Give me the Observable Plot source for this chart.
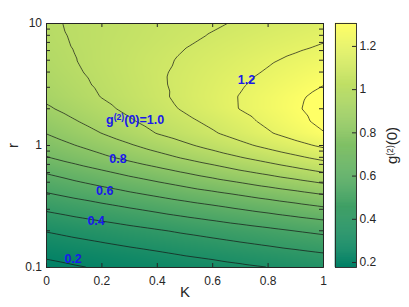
<!DOCTYPE html>
<html><head><meta charset="utf-8">
<script src="https://cdn.jsdelivr.net/npm/d3@7"></script>
<script src="https://cdn.jsdelivr.net/npm/@observablehq/plot@0.6"></script>
<style>
body{margin:0;background:#fff;}
#wrap{position:relative;width:409px;height:307px;font-family:"Liberation Sans",Arial,sans-serif;}
#wrap svg{position:absolute;left:0;top:0;}
</style></head><body><div id="wrap"></div>
<script>
// K columns of the sampled field
const kCols = [0, 0.1, 0.2, 0.3, 0.4, 0.5, 0.6, 0.7, 0.8, 0.9, 1];
// r rows (log-spaced, 0.1 decade)
const rRows = [0.1, 0.126, 0.158, 0.2, 0.251, 0.316, 0.398, 0.501, 0.631, 0.794, 1,
               1.26, 1.58, 2, 2.51, 3.16, 3.98, 5.01, 6.31, 7.94, 10];
// g2(0) values, one row per r, one column per K
const gRows = [
  [0.177,0.192,0.208,0.223,0.238,0.254,0.269,0.284,0.299,0.315,0.330],
  [0.211,0.229,0.246,0.264,0.282,0.302,0.317,0.335,0.353,0.370,0.388],
  [0.257,0.277,0.296,0.316,0.335,0.355,0.374,0.394,0.413,0.433,0.452],
  [0.305,0.327,0.348,0.370,0.392,0.414,0.435,0.457,0.479,0.502,0.522],
  [0.364,0.389,0.413,0.438,0.462,0.487,0.511,0.536,0.560,0.585,0.609],
  [0.425,0.453,0.480,0.508,0.535,0.563,0.590,0.618,0.645,0.673,0.702],
  [0.491,0.522,0.553,0.584,0.615,0.646,0.676,0.707,0.738,0.769,0.802],
  [0.555,0.591,0.626,0.662,0.697,0.733,0.769,0.804,0.840,0.875,0.911],
  [0.621,0.661,0.701,0.741,0.781,0.821,0.861,0.903,0.941,0.981,1.021],
  [0.694,0.737,0.780,0.823,0.866,0.909,0.952,0.995,1.038,1.081,1.124],
  [0.750,0.797,0.843,0.890,0.937,0.984,1.030,1.077,1.124,1.170,1.217],
  [0.803,0.852,0.901,0.951,1.003,1.046,1.090,1.138,1.190,1.243,1.295],
  [0.845,0.893,0.941,0.989,1.037,1.079,1.122,1.170,1.221,1.273,1.325],
  [0.887,0.932,0.977,1.021,1.066,1.111,1.156,1.203,1.245,1.290,1.335],
  [0.920,0.961,1.003,1.042,1.082,1.123,1.163,1.204,1.244,1.285,1.325],
  [0.940,0.977,1.014,1.050,1.087,1.122,1.157,1.192,1.227,1.262,1.298],
  [0.955,0.989,1.022,1.055,1.088,1.118,1.148,1.178,1.208,1.239,1.270],
  [0.967,0.997,1.027,1.056,1.084,1.110,1.136,1.163,1.190,1.216,1.240],
  [0.977,1.002,1.027,1.051,1.075,1.099,1.122,1.144,1.167,1.189,1.210],
  [0.985,1.005,1.025,1.045,1.065,1.085,1.105,1.125,1.145,1.165,1.185],
  [0.990,1.007,1.024,1.041,1.058,1.074,1.091,1.108,1.125,1.141,1.158]
];
const levels = [0.2, 0.3, 0.4, 0.5, 0.6, 0.7, 0.8, 0.9, 1.0, 1.1, 1.2, 1.3];
const xTicks = [0, 0.2, 0.4, 0.6, 0.8, 1];
const yMajor = [0.1, 1, 10];
const yMinor = [0.2, 0.3, 0.4, 0.5, 0.6, 0.7, 0.8, 0.9, 2, 3, 4, 5, 6, 7, 8, 9];
const labelText = ["0.2", "0.4", "0.6", "0.8", "g(2)(0)=1.0", "1.2"];
const labelK = [0.096, 0.179, 0.21, 0.258, 0.32, 0.722];
const labelR = [0.1164, 0.2414, 0.4254, 0.768, 1.61, 3.42];
const cbTicks = [0.2, 0.4, 0.6, 0.8, 1, 1.2];
const cDomain = [0.177, 1.306];

const grid = [];
rRows.forEach((r, i) => kCols.forEach((k, j) => grid.push({K: k, r, g: gRows[i][j]})));
const labels = labelText.map((t, i) => ({t, K: labelK[i], r: labelR[i]}));

const W = 409, H = 307, ML = 46, MR = 86, MT = 23, MB = 40;
const frameW = W - ML - MR, frameH = H - MT - MB;
const tl = 4;
const axisColor = "#262626";
const font = '"Liberation Sans", Arial, sans-serif';
const colorScale = {type: "linear", domain: cDomain, range: ["rgb(0,128,102)", "rgb(255,255,102)"], interpolate: "rgb", clamp: true};
const fmt = d3.format("~g");

const main = Plot.plot({
  width: W, height: H, marginLeft: ML, marginRight: MR, marginTop: MT, marginBottom: MB,
  style: {fontFamily: font, fontSize: "12px", color: axisColor, background: "transparent"},
  x: {domain: [0, 1], axis: null},
  y: {type: "log", domain: [0.1, 10], axis: null},
  color: colorScale,
  marks: [
    Plot.raster(grid, {x: "K", y: "r", fill: "g", interpolate: "barycentric", pixelSize: 1}),
    Plot.contour(grid, {x: "K", y: "r", value: "g", interpolate: "barycentric", thresholds: levels,
      fill: "none", stroke: "#161616", strokeWidth: 0.7, pixelSize: 1}),
    Plot.tickX(xTicks, {x: d => d, insetTop: frameH - tl, stroke: axisColor}),
    Plot.tickX(xTicks, {x: d => d, insetBottom: frameH - tl, stroke: axisColor}),
    Plot.tickY(yMajor.concat(yMinor), {y: d => d, insetRight: frameW - tl, stroke: axisColor}),
    Plot.tickY(yMajor.concat(yMinor), {y: d => d, insetLeft: frameW - tl, stroke: axisColor}),
    Plot.frame({stroke: axisColor, strokeWidth: 0.9}),
    Plot.text(xTicks, {x: d => d, y: () => 0.1, dy: 13.5, text: d => fmt(d), fill: axisColor, fontSize: 12}),
    Plot.text(yMajor, {y: d => d, x: () => 0, dx: -4.5, textAnchor: "end", text: d => fmt(d), fill: axisColor, fontSize: 12}),
    Plot.text(["K"], {frameAnchor: "bottom", textAnchor: "middle", dy: 29, text: d => d, fill: axisColor, fontSize: 15}),
    Plot.text(["r"], {frameAnchor: "left", textAnchor: "middle", dx: -33, rotate: -90, text: d => d, fill: axisColor, fontSize: 15}),
    Plot.text(labels, {x: "K", y: "r", text: "t", fill: "rgb(25,25,235)", fontWeight: "bold", fontSize: 12.5})
  ]
});

const nSlices = 240;
const slices = d3.range(nSlices).map(i => {
  const a = cDomain[0] + (cDomain[1] - cDomain[0]) * i / nSlices;
  const b = cDomain[0] + (cDomain[1] - cDomain[0]) * (i + 1) / nSlices;
  return {a, b, m: (a + b) / 2};
});

const cb = Plot.plot({
  width: W, height: H, marginLeft: 335, marginRight: 53, marginTop: 23, marginBottom: 40,
  style: {fontFamily: font, fontSize: "12px", color: axisColor, background: "transparent"},
  x: {domain: [0, 1], axis: null},
  y: {domain: cDomain, axis: null},
  color: colorScale,
  marks: [
    Plot.rect(slices, {x1: () => 0, x2: () => 1, y1: "a", y2: "b", fill: "m", stroke: "m", strokeWidth: 0.5}),
    Plot.tickY(cbTicks, {y: d => d, insetLeft: 17, stroke: axisColor}),
    Plot.frame({stroke: axisColor, strokeWidth: 0.9}),
    Plot.text(cbTicks, {y: d => d, x: () => 1, dx: 3, textAnchor: "start", text: d => fmt(d), fill: axisColor, fontSize: 12}),
    Plot.text(["g(2)(0)"], {frameAnchor: "right", textAnchor: "middle", dx: 36, rotate: -90, text: d => d, fill: axisColor, fontSize: 15})
  ]
});

function superscript(svg) {
  const ns = "http://www.w3.org/2000/svg";
  svg.querySelectorAll("text").forEach(t => {
    const s = t.textContent;
    const m = s.match(/^g\(2\)(.*)$/);
    if (!m) return;
    const fs = parseFloat(t.getAttribute("font-size")) || 12;
    const up = fs * 0.38;
    t.textContent = "";
    const a = document.createElementNS(ns, "tspan"); a.textContent = "g";
    const b = document.createElementNS(ns, "tspan"); b.textContent = "(2)";
    b.setAttribute("dy", -up); b.setAttribute("font-size", fs * 0.72);
    const c = document.createElementNS(ns, "tspan"); c.textContent = m[1];
    c.setAttribute("dy", up);
    t.append(a, b, c);
  });
}
superscript(main);
superscript(cb);
const wrap = document.getElementById("wrap");
wrap.append(main, cb);
</script></body></html>
